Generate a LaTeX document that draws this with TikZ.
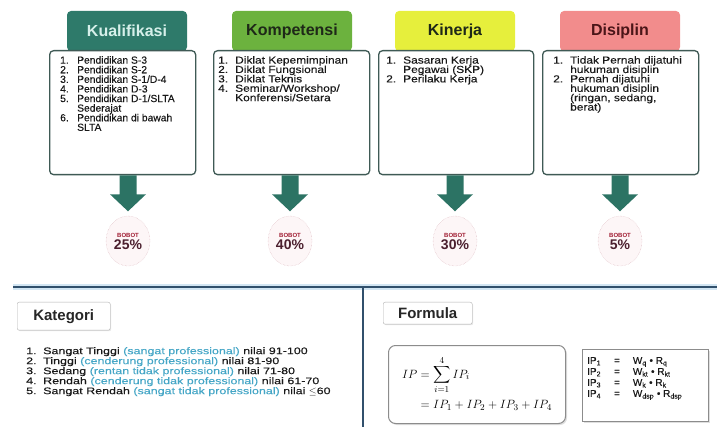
\documentclass[tikz,border=0pt]{standalone}
\usepackage{fontspec}
\setmainfont{Liberation Sans}
\newfontfamily\listfont{Liberation Sans}[FakeBold=0.2]
\newfontfamily\widefont{Liberation Sans}[FakeStretch=1.17, FakeBold=0.15]
\newfontfamily\katfont{Liberation Sans}[FakeStretch=1.3, FakeBold=0.15]
\usepackage{amsmath}
\usetikzlibrary{shapes.geometric,shadows}

\definecolor{kualteal}{HTML}{2E7A6A}
\definecolor{kualtext}{HTML}{D6F0EA}
\definecolor{kompgreen}{HTML}{6CB23E}
\definecolor{kinyellow}{HTML}{E6EF3C}
\definecolor{dispink}{HTML}{F28C8C}
\definecolor{darktext}{HTML}{1E2818}
\definecolor{distext}{HTML}{4A1518}
\definecolor{boxline}{HTML}{3F5A55}
\definecolor{arrowfill}{HTML}{2C7364}
\definecolor{bobotline}{HTML}{D7AEB6}
\definecolor{bobotfill}{HTML}{FDF6F7}
\definecolor{bobotred}{HTML}{A01C32}
\definecolor{bobottext}{HTML}{4B1F2E}
\definecolor{rulecol}{HTML}{31506C}
\definecolor{glowblue}{HTML}{D3E6F3}
\definecolor{paren}{HTML}{45A6C6}

\newcommand{\itemno}[1]{\makebox[17pt][l]{#1}}
\newcommand{\itemskip}{\hspace*{17pt}}
\newcommand{\tightlines}{\lineskiplimit=-4pt\relax}

\begin{document}
\begin{tikzpicture}[x=1pt, y=-1pt,
    header/.style={rectangle, rounded corners=4pt, minimum width=120pt, minimum height=40pt, font=\fontsize{16}{18}\selectfont\bfseries},
    panel/.style={rectangle, draw=boxline, line width=1.3pt, rounded corners=4pt, fill=white, minimum height=124pt, anchor=north west},
    list/.style={anchor=north west, inner sep=0pt, align=left, text=black!90, font=\widefont\fontsize{10.2}{9.4}\selectfont\tightlines},
    bobot/.style={ellipse, draw=bobotline, densely dotted, fill=bobotfill, minimum width=44pt, minimum height=50pt, inner sep=0pt, align=center, text=bobottext, font=\bfseries},
    tag/.style={rectangle, draw=black!30, rounded corners=2pt, fill=white, drop shadow={opacity=0.2, shadow xshift=1pt, shadow yshift=-1pt}, font=\fontsize{15}{17}\selectfont\bfseries, text=black!85, anchor=north west},
    outbox/.style={rectangle, draw=black!45, line width=1pt, fill=white, drop shadow={opacity=0.25, shadow xshift=1.5pt, shadow yshift=-1.5pt}, anchor=north west}
]
    \useasboundingbox (0,0) rectangle (717,427);

    \node[header, fill=kualteal, text=kualtext] (head1) at (127,31) {Kualifikasi};
    \node[header, fill=kompgreen, text=darktext] (head2) at (292,31) {Kompetensi};
    \node[header, fill=kinyellow, text=darktext] (head3) at (455,31) {Kinerja};
    \node[header, fill=dispink, text=distext] (head4) at (620,31) {Disiplin};

    \node[panel, minimum width=146pt] (box1) at (49,50) {};
    \node[panel, minimum width=156pt] (box2) at (213,50) {};
    \node[panel, minimum width=155pt] (box3) at (378,50) {};
    \node[panel, minimum width=156pt] (box4) at (542,50) {};

    \node[list, font=\listfont\fontsize{10.3}{9.6}\selectfont\tightlines] (list1) at (60,56) {
        \itemno{1.}Pendidikan S-3\\
        \itemno{2.}Pendidikan S-2\\
        \itemno{3.}Pendidikan S-1/D-4\\
        \itemno{4.}Pendidikan D-3\\
        \itemno{5.}Pendidikan D-1/SLTA\\
        \itemskip Sederajat\\
        \itemno{6.}Pendidikan di bawah\\
        \itemskip SLTA
    };
    \node[list] (list2) at (218,56) {
        \itemno{1.}Diklat Kepemimpinan\\
        \itemno{2.}Diklat Fungsional\\
        \itemno{3.}Diklat Teknis\\
        \itemno{4.}Seminar/Workshop/\\
        \itemskip Konferensi/Setara
    };
    \node[list] (list3) at (386,56) {
        \itemno{1.}Sasaran Kerja\\
        \itemskip Pegawai (SKP)\\
        \itemno{2.}Perilaku Kerja
    };
    \node[list] (list4) at (553,56) {
        \itemno{1.}Tidak Pernah dijatuhi\\
        \itemskip hukuman disiplin\\
        \itemno{2.}Pernah dijatuhi\\
        \itemskip hukuman disiplin\\
        \itemskip (ringan, sedang,\\
        \itemskip berat)
    };

    \node[bobot] (bob1) at (128,241) {{\fontsize{6}{7}\selectfont\color{bobotred}BOBOT}\\{\fontsize{14}{15}\selectfont 25\%}};
    \node[bobot] (bob2) at (290,241) {{\fontsize{6}{7}\selectfont\color{bobotred}BOBOT}\\{\fontsize{14}{15}\selectfont 40\%}};
    \node[bobot] (bob3) at (455,241) {{\fontsize{6}{7}\selectfont\color{bobotred}BOBOT}\\{\fontsize{14}{15}\selectfont 30\%}};
    \node[bobot] (bob4) at (620,241) {{\fontsize{6}{7}\selectfont\color{bobotred}BOBOT}\\{\fontsize{14}{15}\selectfont 5\%}};

    \foreach \i in {1,...,4} {
        \coordinate (top\i) at (bob\i |- box\i.south);
        \fill[arrowfill] ([xshift=-8.5pt]top\i) -- ++(0,19) -- ++(-9.5,0) -- ++(18,17) -- ++(18,-17) -- ++(-9.5,0) -- ([xshift=8.5pt]top\i) -- cycle;
    }

    \draw[line width=6pt, glowblue] (13,287) -- (717,287);
    \draw[line width=2pt, rulecol] (13,287) -- (717,287);
    \draw[line width=2pt, rulecol] (363,287) -- (363,427);

    \node[tag, minimum width=93pt, minimum height=28pt] (kategori) at (17,302) {Kategori};
    \node[list, font=\katfont\fontsize{9.6}{10}\selectfont\tightlines] (katlist) at (26,347) {
        \itemno{1.}Sangat Tinggi {\color{paren}(sangat professional)} nilai 91-100\\
        \itemno{2.}Tinggi {\color{paren}(cenderung professional)} nilai 81-90\\
        \itemno{3.}Sedang {\color{paren}(rentan tidak professional)} nilai 71-80\\
        \itemno{4.}Rendah {\color{paren}(cenderung tidak professional)} nilai 61-70\\
        \itemno{5.}Sangat Rendah {\color{paren}(sangat tidak professional)} nilai $\leq$60
    };

    \node[tag, minimum width=89pt, minimum height=22pt] (formulatag) at (383,302) {Formula};
    \node[outbox, rounded corners=7pt, minimum width=177pt, minimum height=78pt, font=\fontsize{13}{15}\selectfont] (formula) at (388,345) {
        $\begin{aligned} IP &= \sum_{i=1}^{4} IP_i\\ &= IP_1 + IP_2 + IP_3 + IP_4 \end{aligned}$
    };
    \node[outbox, minimum width=126pt, minimum height=72pt] (ipbox) at (582,349) {};
    \node[list, font=\listfont\fontsize{10}{11}\selectfont] (iptable) at (587,356) {
        \begin{tabular}{@{}l@{\hspace{13pt}}c@{\hspace{13pt}}l@{}}
            IP\textsubscript{1} & = & W\textsubscript{q} \textbullet{} R\textsubscript{q}\\
            IP\textsubscript{2} & = & W\textsubscript{kt} \textbullet{} R\textsubscript{kt}\\
            IP\textsubscript{3} & = & W\textsubscript{k} \textbullet{} R\textsubscript{k}\\
            IP\textsubscript{4} & = & W\textsubscript{dsp} \textbullet{} R\textsubscript{dsp}
        \end{tabular}
    };
\end{tikzpicture}
\end{document}
